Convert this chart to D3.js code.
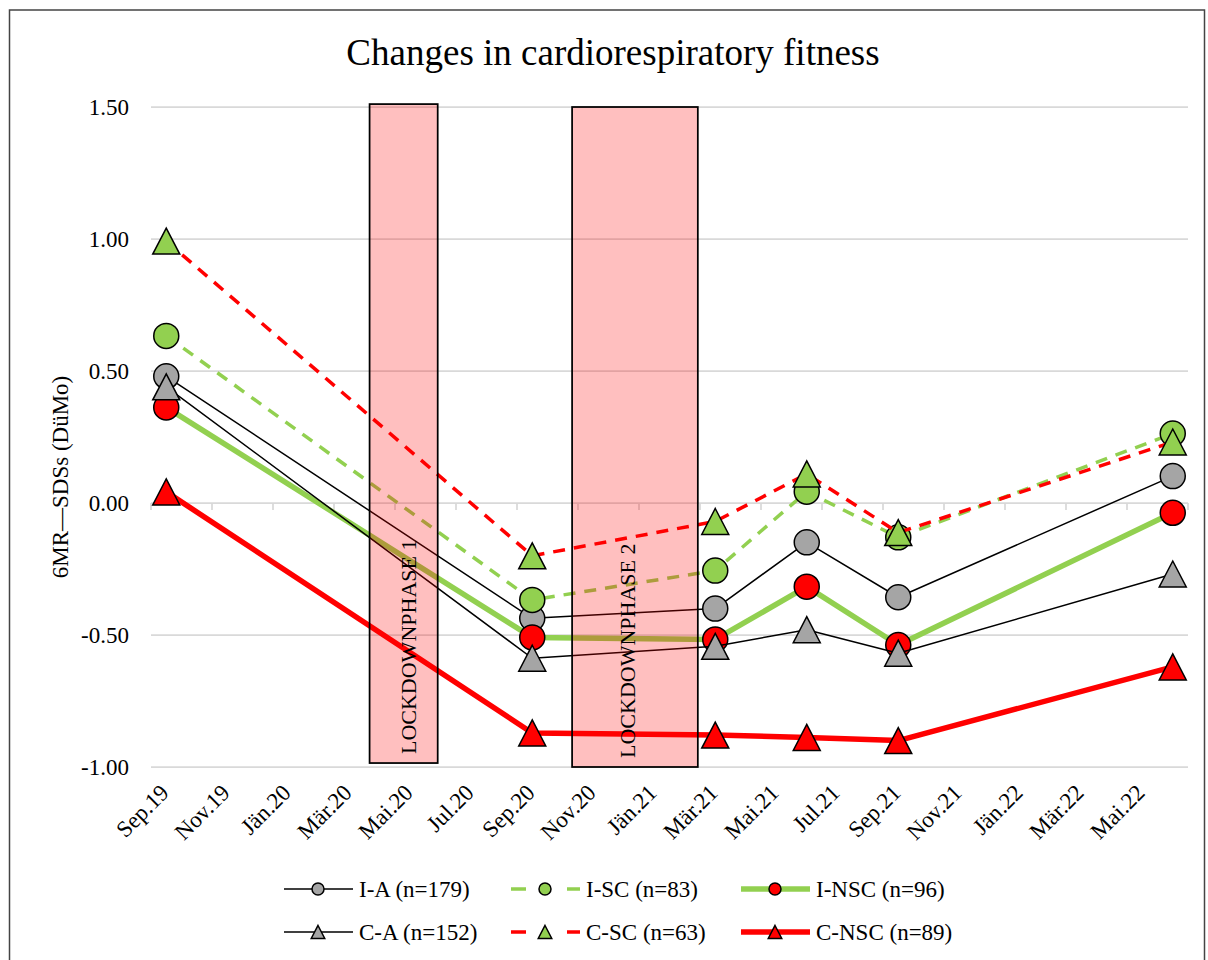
<!DOCTYPE html>
<html>
<head>
<meta charset="utf-8">
<script src="https://cdn.jsdelivr.net/npm/d3@7"></script>
<style>
  html, body { margin: 0; padding: 0; background: #fff; }
  svg { display: block; }
  text { font-family: "Liberation Serif", "Times New Roman", serif; fill: #000; }
</style>
</head>
<body>
<svg id="chart" width="1208" height="960"></svg>
<script>
// ---------------- DATA ----------------
const title = "Changes in cardiorespiratory fitness";
const yAxisTitle = "6MR\u2014SDSs (DüMo)";
const monthNames = ["Jän","Feb","Mär","Apr","Mai","Jun","Jul","Aug","Sep","Okt","Nov","Dez"];
const axisStart = "2019-09";      // first month on the date axis
const axisMonths = 34;            // Sep.19 .. Jun.22
const labelEvery = 2;             // months between axis labels
const yTicks = [-1.0, -0.5, 0.0, 0.5, 1.0, 1.5];

const dates = ["2019-09", "2020-09", "2021-03", "2021-06", "2021-09", "2022-06"];
const seriesNames = ["I-A (n=179)", "I-SC (n=83)", "I-NSC (n=96)", "C-A (n=152)", "C-SC (n=63)", "C-NSC (n=89)"];
const valuesIA   = [0.480, -0.437, -0.400, -0.149, -0.357, 0.102];
const valuesISC  = [0.633, -0.367, -0.256, 0.043, -0.130, 0.263];
const valuesINSC = [0.362, -0.509, -0.517, -0.317, -0.538, -0.037];
const valuesCA   = [0.440, -0.588, -0.543, -0.480, -0.569, -0.269];
const valuesCSC  = [0.992, -0.200, -0.070, 0.110, -0.112, 0.231];
const valuesCNSC = [0.042, -0.871, -0.879, -0.888, -0.900, -0.621];

const lockdownLabels = ["LOCKDOWNPHASE 1", "LOCKDOWNPHASE 2"];
const lockdownStart  = ["2020-04-06", "2020-10-26"];
const lockdownEnd    = ["2020-06-13", "2021-02-27"];
const lockdownTop    = [1.511, 1.500];
const lockdownBottom = [-0.985, -1.000];

// ---------------- STYLES ----------------
const GREEN = "#92d050", RED = "#ff0000", GRAY = "#a5a5a5";
const styles = [
  { line: "#000", width: 1.5, dash: null, marker: "circle", fill: GRAY },
  { line: GREEN, width: 3.5, dash: "12,9", marker: "circle", fill: GREEN },
  { line: GREEN, width: 5.5, dash: null, marker: "circle", fill: RED },
  { line: "#000", width: 1.5, dash: null, marker: "triangle", fill: GRAY },
  { line: RED, width: 3.5, dash: "12,9", marker: "triangle", fill: GREEN },
  { line: RED, width: 5.5, dash: null, marker: "triangle", fill: RED }
];
const allValues = [valuesIA, valuesISC, valuesINSC, valuesCA, valuesCSC, valuesCNSC];

// ---------------- HELPERS ----------------
const [y0, m0] = axisStart.split("-").map(Number);
function monthPos(str) {
  const p = str.split("-").map(Number);
  const base = (p[0] - y0) * 12 + (p[1] - m0);
  if (p.length < 3) return base + 0.5;                 // middle of month
  const dim = new Date(p[0], p[1], 0).getDate();
  return base + (p[2] - 1) / dim;
}
function monthLabel(i) {
  const total = (m0 - 1) + i;
  const y = y0 + Math.floor(total / 12);
  const m = total % 12;
  return monthNames[m] + "." + String(y % 100).padStart(2, "0");
}

// ---------------- LAYOUT ----------------
const svg = d3.select("#chart");
const plot = { left: 151, right: 1188, top: 107, bottom: 767 };
const x = d3.scaleLinear().domain([0, axisMonths]).range([plot.left, plot.right]);
const y = d3.scaleLinear().domain([-1, 1.5]).range([plot.bottom, plot.top]);

svg.append("rect").attr("width", 1208).attr("height", 960).attr("fill", "#fff");
svg.append("rect").attr("x", 9.5).attr("y", 10).attr("width", 1195).attr("height", 970)
  .attr("fill", "none").attr("stroke", "#444").attr("stroke-width", 1.5);

// Title
svg.append("text").attr("x", 613).attr("y", 65).attr("text-anchor", "middle")
  .style("font-size", "37px").text(title);

// Gridlines
svg.append("g").selectAll("line").data(yTicks).join("line")
  .attr("x1", plot.left).attr("x2", plot.right)
  .attr("y1", d => y(d)).attr("y2", d => y(d))
  .attr("stroke", "#d9d9d9").attr("stroke-width", 1.75);

// Y tick labels
svg.append("g").selectAll("text").data(yTicks).join("text")
  .attr("x", 129).attr("y", d => y(d)).attr("text-anchor", "end")
  .attr("dominant-baseline", "central").style("font-size", "23px")
  .text(d => d.toFixed(2));

// Y axis title
svg.append("text").attr("transform", `translate(60,${(plot.top + plot.bottom) / 2 + 40}) rotate(-90)`)
  .attr("text-anchor", "middle").attr("dominant-baseline", "central")
  .style("font-size", "23px").text(yAxisTitle);

// X axis ticks on the zero line
const tickIdx = d3.range(0, axisMonths + 1, labelEvery);
svg.append("g").selectAll("line").data(tickIdx).join("line")
  .attr("x1", d => x(d)).attr("x2", d => x(d))
  .attr("y1", y(0)).attr("y2", y(0) + 7)
  .attr("stroke", "#d9d9d9").attr("stroke-width", 1.75);

// X labels
const labIdx = d3.range(0, axisMonths, labelEvery);
svg.append("g").selectAll("text").data(labIdx).join("text")
  .attr("transform", d => `translate(${x(d + 0.5) + 4},${plot.bottom + 27}) rotate(-45)`)
  .attr("text-anchor", "end").style("font-size", "23px")
  .text(d => monthLabel(d));

// Series
const line = d3.line().x(d => x(monthPos(d.date))).y(d => y(d.v));
const triPath = "M0,-13L13.5,13L-13.5,13Z";
allValues.forEach((vals, si) => {
  const st = styles[si];
  const pts = dates.map((dt, i) => ({ date: dt, v: vals[i] }));
  const g = svg.append("g");
  g.append("path").datum(pts).attr("d", line).attr("fill", "none")
    .attr("stroke", st.line).attr("stroke-width", st.width)
    .attr("stroke-dasharray", st.dash).attr("stroke-linejoin", "round");
  const mk = g.selectAll(".m").data(pts).join(st.marker === "circle" ? "circle" : "path")
    .attr("fill", st.fill).attr("stroke", "#000").attr("stroke-width", 1.5);
  if (st.marker === "circle") {
    mk.attr("cx", d => x(monthPos(d.date))).attr("cy", d => y(d.v)).attr("r", 12.5);
  } else {
    mk.attr("d", triPath).attr("transform", d => `translate(${x(monthPos(d.date))},${y(d.v)})`);
  }
});

// Lockdown boxes (semi-transparent, above lines)
const textOffset = [5, -7];
lockdownLabels.forEach((lab, i) => {
  const x1 = x(monthPos(lockdownStart[i])), x2 = x(monthPos(lockdownEnd[i]));
  const yt = y(lockdownTop[i]), yb = y(lockdownBottom[i]);
  svg.append("rect").attr("x", x1).attr("y", yt).attr("width", x2 - x1).attr("height", yb - yt)
    .attr("fill", "rgba(255,0,0,0.25)").attr("stroke", "#000").attr("stroke-width", 1.75);
  svg.append("text")
    .attr("transform", `translate(${(x1 + x2) / 2 + textOffset[i]},${yb - 9}) rotate(-90)`)
    .attr("text-anchor", "start").attr("dominant-baseline", "central")
    .style("font-size", "22px").attr("fill", "#222").text(lab);
});

// Legend
const legCols = [284, 511, 741];
const legRows = [889, 932];
seriesNames.forEach((name, i) => {
  const st = styles[i];
  const cx = legCols[i % 3], cy = legRows[Math.floor(i / 3)];
  const g = svg.append("g");
  g.append("line").attr("x1", cx).attr("x2", cx + 69).attr("y1", cy).attr("y2", cy)
    .attr("stroke", st.line).attr("stroke-width", st.width)
    .attr("stroke-dasharray", st.dash ? "15,41" : null);
  if (st.marker === "circle") {
    g.append("circle").attr("cx", cx + 34).attr("cy", cy).attr("r", 6)
      .attr("fill", st.fill).attr("stroke", "#000").attr("stroke-width", 1.5);
  } else {
    g.append("path").attr("d", "M0,-6.5L6.75,6.5L-6.75,6.5Z")
      .attr("transform", `translate(${cx + 34},${cy})`)
      .attr("fill", st.fill).attr("stroke", "#000").attr("stroke-width", 1.5);
  }
  g.append("text").attr("x", cx + 75).attr("y", cy).attr("dominant-baseline", "central")
    .style("font-size", "23px").text(name);
});
</script>
</body>
</html>
